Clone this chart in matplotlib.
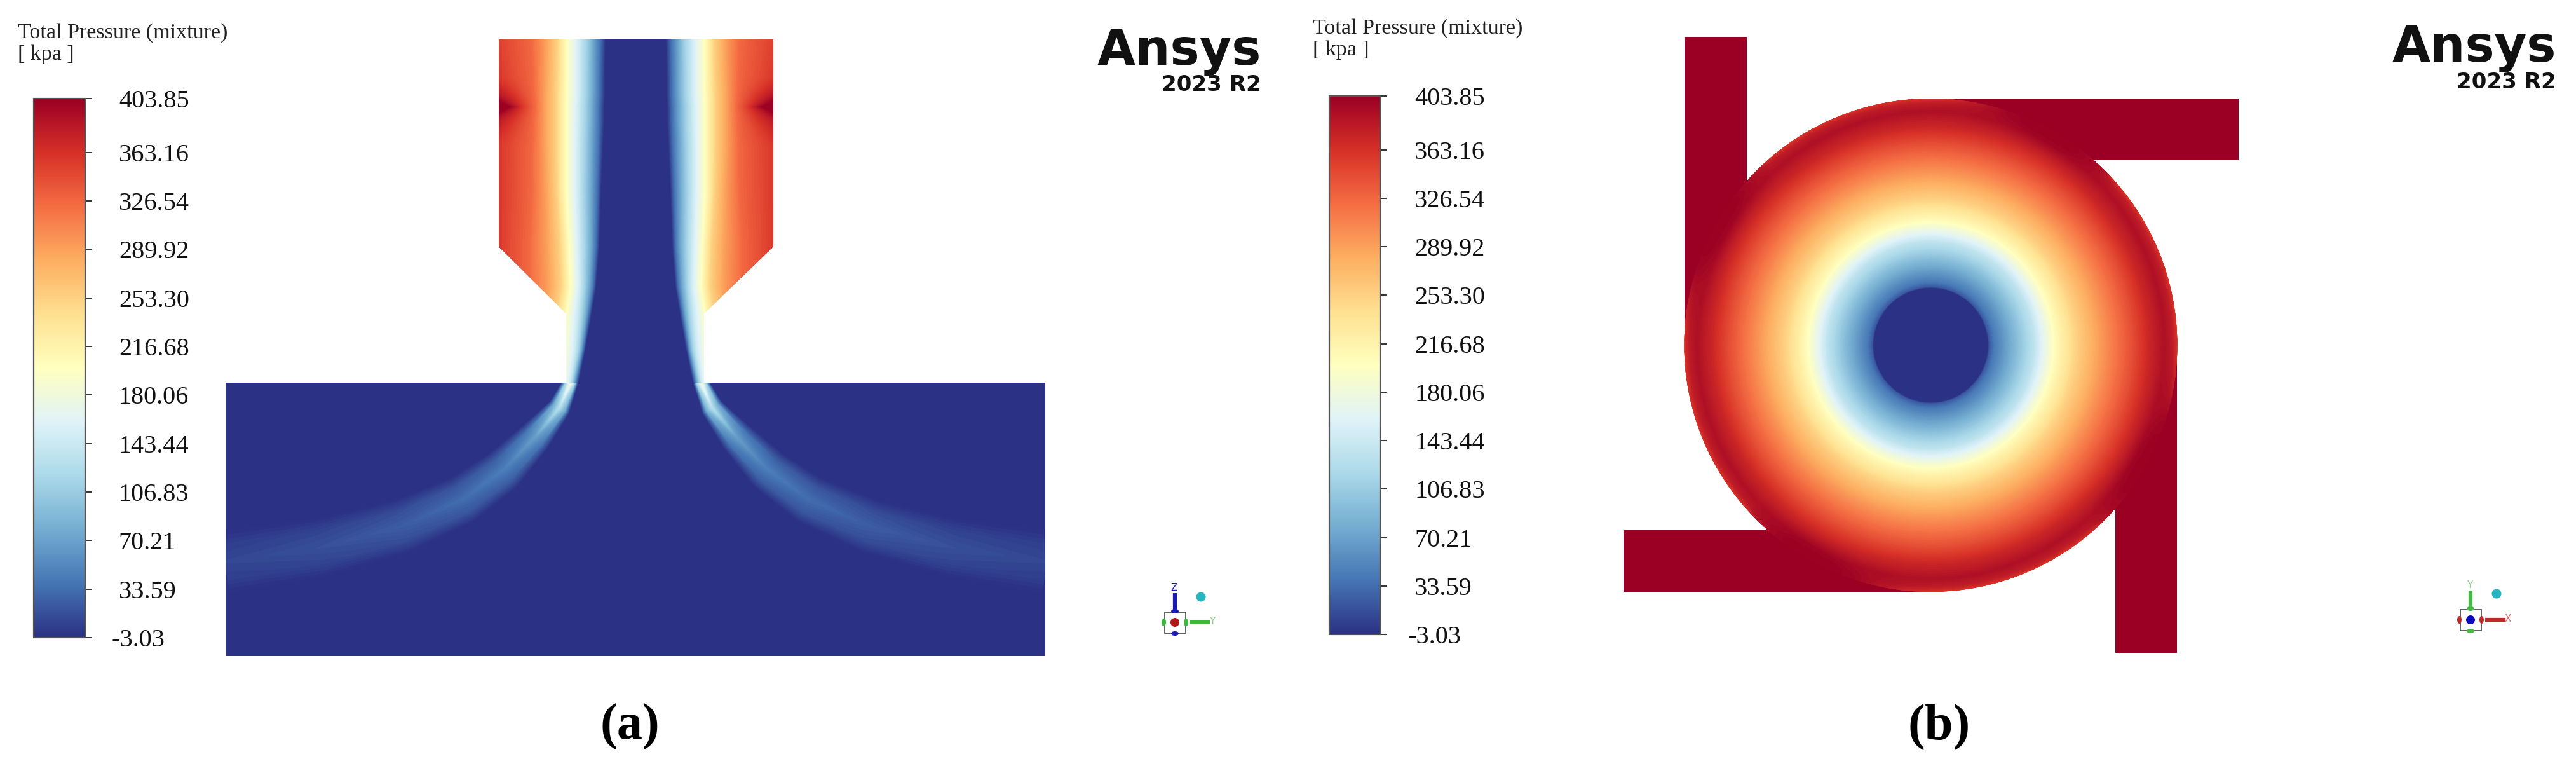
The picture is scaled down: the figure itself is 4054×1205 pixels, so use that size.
import numpy as np
import matplotlib
matplotlib.use("Agg")
import matplotlib.pyplot as plt
from matplotlib.cm import ScalarMappable
from matplotlib.colors import LinearSegmentedColormap, Normalize
from matplotlib.patches import Polygon, Rectangle, Circle, Ellipse

W, H = 4054, 1205

# ---------------- colour scale ----------------
tick_values = [-3.03, 33.59, 70.21, 106.83, 143.44, 180.06, 216.68, 253.30, 289.92, 326.54, 363.16, 403.85]
tick_labels = ["-3.03", "33.59", "70.21", "106.83", "143.44", "180.06", "216.68", "253.30", "289.92", "326.54", "363.16", "403.85"]
scale_colors = ["#2b3184", "#4575b4", "#74add1", "#abd9e9", "#e0f3f8", "#ffffbf",
                "#fee090", "#fdae61", "#f46d43", "#d73027", "#9b0024"]
title_lines = ["Total Pressure (mixture)", "[ kpa ]"]

# ---------------- panel (a): nozzle section ----------------
axis_a = 1000.5
nozzle_outline_x = [785, 1217, 1217, 1108, 1108, 891, 891, 785]
nozzle_outline_y = [62, 62, 388, 493, 602, 602, 493, 388]
plate_x = [355, 1645]
plate_y = [602, 1032]
# distance from the axis at which each pressure of tick_values is reached, per height
nozzle_heights = [62, 120, 148, 168, 188, 230, 300, 388, 450, 493, 550, 602]
nozzle_iso = [
    [48, 56, 67, 76, 89, 102, 114, 124, 142, 165, 240, 290],
    [49, 57, 67, 77, 89, 102, 114, 125, 143, 163, 225, 290],
    [49, 57, 67, 77, 89, 102, 115, 126, 144, 162, 195, 240],
    [50, 58, 68, 78, 90, 103, 115, 126, 144, 160, 180, 200],
    [50, 58, 68, 78, 90, 103, 115, 126, 144, 162, 195, 240],
    [52, 59, 69, 79, 91, 103, 115, 126, 144, 164, 225, 300],
    [55, 61, 70, 80, 91, 103, 115, 125, 142, 165, 225, 300],
    [58, 63, 70, 79, 89, 100, 110, 120, 140, 170, 225, 300],
    [63, 67, 73, 80, 88, 98, 108, 118, 138, 170, 225, 300],
    [70, 74, 78, 84, 92, 104, 114, 125, 145, 170, 225, 300],
    [80, 83, 86, 90, 96, 108, 125, 140, 160, 180, 200, 300],
    [91, 94, 97, 100, 104, 112, 125, 140, 160, 180, 200, 300],
]
nozzle_outer = 330
# jet fanning out in the plate: offset from axis, height, half-width, peak pressure
jet_offset = [102, 120, 158, 209, 273, 369, 496, 646]
jet_height = [600, 641, 687, 740, 786, 828, 861, 884]
jet_halfwidth = [11, 17, 26, 34, 38, 42, 45, 48]
jet_peak = [190, 130, 70, 46, 36, 26, 18, 13]
jet_cross_pos = [-1.0, -0.55, 0.0, 0.55, 1.0]
jet_cross_rel = [0.0, 0.62, 1.0, 0.62, 0.0]

# ---------------- panel (b): swirl chamber ----------------
swirl_center = (3038.5, 543)
swirl_radius = 388
hole_radius = 90
arm_left = [2651, 58, 98, 485]     # x, y, w, h
arm_top = [3038, 155, 485, 97]
arm_right = [3329, 543, 97, 484]
arm_bottom = [2555, 834, 483, 97]
ring_radii = [88, 90, 93, 100, 131, 164, 180, 197, 230, 265, 310, 345]
ring_pressure = [-3.03, -3.03, 22, 40, 85, 135, 170, 205, 253, 290, 335, 372]
# sector angle (deg) and the rim pressure per sector angle, repeated for each of the four arms
sector_angle = [0, 6, 12, 18, 24, 30, 36, 42, 48, 54, 60, 66, 72, 78, 84]
rim_radii = [368, 380, 392]
rim_pressure = [
    [390, 390, 390, 390, 390, 390, 390, 390, 394, 398, 400, 398, 394, 392, 390],
    [380, 380, 380, 380, 380, 380, 380, 384, 396, 403, 403, 403, 398, 390, 384],
    [350, 350, 350, 350, 350, 350, 350, 355, 392, 403, 403, 403, 400, 380, 360],
]

# ---------------- annotations ----------------
legend_a = dict(bar=(53, 134, 155, 1003), title_x=28, title_y=(60, 94), pad=30, minus_pad=22)
legend_b = dict(bar=(2092, 2172, 151, 998), title_x=2066, title_y=(53, 87), pad=31, minus_pad=23)
logo_a = dict(right=1985, y1=102, y2=143)
logo_b = dict(right=4023, y1=97, y2=139)
triad_a = dict(c=(1849, 979), ball=(1890, 939), up="#1a1ab4", side="#3cb83c", mid="#b01818",
               up_label="Z", side_label="Y", side_text="#8fd08f", up_text="#1a1ab4")
triad_b = dict(c=(3888, 975), ball=(3929, 934), up="#46b846", side="#c02a2a", mid="#0a0ac0",
               up_label="Y", side_label="X", side_text="#d86a6a", up_text="#8fd08f")
captions = [("(a)", 991, 1163), ("(b)", 3052, 1163)]

# ---------------------------------------------------------------------------
cmap = LinearSegmentedColormap.from_list("pressure", scale_colors, N=512)
norm = Normalize(tick_values[0], tick_values[-1])
levels = np.linspace(tick_values[0], tick_values[-1], 161)
bg = cmap(0.0)
top = cmap(1.0)
SERIF = "Liberation Serif"

fig = plt.figure(figsize=(W / 100, H / 100), dpi=100, facecolor="white")
ax = fig.add_axes([0, 0, 1, 1])
ax.set_xlim(0, W)
ax.set_ylim(H, 0)
ax.axis("off")


def fill(X, Y, Z, clip, zorder):
    cs = ax.contourf(X, Y, Z, levels=levels, cmap=cmap, norm=norm, extend="both", zorder=zorder)
    cs.set_edgecolor("face")
    cs.set_linewidth(0.4)
    cs.set_clip_path(clip)
    return cs


# panel (a)
plate = Rectangle((plate_x[0], plate_y[0]), plate_x[1] - plate_x[0], plate_y[1] - plate_y[0],
                  facecolor=bg, edgecolor="none", zorder=1)
ax.add_patch(plate)
nozzle = Polygon(np.column_stack([nozzle_outline_x, nozzle_outline_y]), closed=True,
                 facecolor=bg, edgecolor="none", zorder=3)
ax.add_patch(nozzle)

iso = np.array(nozzle_iso, float)
iso = np.hstack([iso, np.full((iso.shape[0], 1), nozzle_outer)])
P = np.array(tick_values + [tick_values[-1]])
X_n = axis_a + np.hstack([-iso[:, ::-1], iso])
Y_n = np.repeat(np.array(nozzle_heights, float)[:, None], X_n.shape[1], axis=1)
Z_n = np.tile(np.hstack([P[::-1], P]), (len(nozzle_heights), 1))
fill(X_n, Y_n, Z_n, nozzle, 4)

off = np.array(jet_offset, float)
yc = np.array(jet_height, float)
tx, ty = np.gradient(off), np.gradient(yc)
ln = np.hypot(tx, ty)
nx, ny = -ty / ln, tx / ln
cross = np.array(jet_cross_pos)
rel = np.array(jet_cross_rel)
hw = np.array(jet_halfwidth, float)
D = off[:, None] + nx[:, None] * hw[:, None] * cross
Yj = yc[:, None] + ny[:, None] * hw[:, None] * cross
Zj = tick_values[0] + np.array(jet_peak, float)[:, None] * rel
for sign in (1, -1):
    fill(axis_a + sign * D, Yj, Zj, plate, 2)

# panel (b)
for arm in (arm_left, arm_top, arm_right, arm_bottom):
    ax.add_patch(Rectangle(arm[:2], arm[2], arm[3], facecolor=top, edgecolor="none", zorder=1))
cx, cy = swirl_center
disc = Circle(swirl_center, swirl_radius, facecolor="none", edgecolor="none", zorder=2)
ax.add_patch(disc)
theta = np.deg2rad(np.concatenate([np.array(sector_angle) + k * 90 for k in range(4)] + [[360]]))
radii = np.array(ring_radii + rim_radii, float)
ring_rows = np.repeat(np.array(ring_pressure, float)[:, None], theta.size, axis=1)
rim = np.array(rim_pressure, float)
rim_rows = np.hstack([rim, rim, rim, rim, rim[:, :1]])
Z_b = np.vstack([ring_rows, rim_rows])
R, T = np.meshgrid(radii, theta, indexing="ij")
X_b = cx + R * np.cos(T)
Y_b = cy - R * np.sin(T)
fill(X_b, Y_b, Z_b, disc, 3)
ax.add_patch(Circle(swirl_center, hole_radius, facecolor=bg, edgecolor="none", zorder=4))


# legends
def legend(spec):
    x0, x1, y0, y1 = spec["bar"]
    cax = fig.add_axes([x0 / W, 1 - y1 / H, (x1 - x0) / W, (y1 - y0) / H])
    cb = fig.colorbar(ScalarMappable(norm=norm, cmap=cmap), cax=cax)
    cb.set_ticks(tick_values, labels=tick_labels)
    cb.ax.minorticks_off()
    cb.ax.tick_params(length=8, width=1.3, color="#222222", pad=spec["pad"], labelsize=29, labelcolor="#111111")
    for lab in cb.ax.get_yticklabels():
        lab.set_fontfamily(SERIF)
    cb.ax.yaxis.get_major_ticks()[0].set_pad(spec["minus_pad"])
    cb.outline.set_edgecolor("#555555")
    cb.outline.set_linewidth(1.6)
    for line, y in zip(title_lines, spec["title_y"]):
        ax.text(spec["title_x"], y, line, family=SERIF, fontsize=24.5, color="#222222", va="baseline", ha="left")


legend(legend_a)
legend(legend_b)

# logos
for logo in (logo_a, logo_b):
    ax.text(logo["right"], logo["y1"], "Ansys", family="DejaVu Sans", weight="bold", fontsize=56,
            ha="right", va="baseline", color="#111111")
    ax.text(logo["right"], logo["y2"], "2023 R2", family="DejaVu Sans", weight="bold", fontsize=24.5,
            ha="right", va="baseline", color="#111111")


# orientation triads
def triad(t):
    x, y = t["c"]
    s = 16.5
    ax.add_patch(Rectangle((x - s, y - s), 2 * s, 2 * s, facecolor="white", edgecolor="#444444", lw=1.2, zorder=6))
    ax.plot([x, x], [y - s - 3, y - s - 30], color=t["up"], lw=4.5, zorder=5, solid_capstyle="butt")
    ax.plot([x + s + 6, x + s + 38], [y, y], color=t["side"], lw=4.5, zorder=5, solid_capstyle="butt")
    for dx, dy, col, w, h in [(0, -s - 1, t["up"], 12, 7), (0, s + 1, t["up"], 12, 7),
                              (-s - 1, 0, t["side"], 7, 12), (s + 1, 0, t["side"], 7, 12)]:
        ax.add_patch(Ellipse((x + dx, y + dy), w, h, facecolor=col, edgecolor="none", zorder=7))
    ax.add_patch(Circle((x, y), 7, facecolor=t["mid"], edgecolor="none", zorder=7))
    ax.add_patch(Circle(t["ball"], 7.5, facecolor="#25b5c0", edgecolor="none", zorder=6))
    ax.text(x - 1, y - s - 38, t["up_label"], fontsize=11, color=t["up_text"], ha="center", va="center", zorder=7)
    ax.text(x + s + 42, y - 2, t["side_label"], fontsize=11, color=t["side_text"], ha="center", va="center", zorder=7)


triad(triad_a)
triad(triad_b)

for text, x, y in captions:
    ax.text(x, y, text, family=SERIF, weight="bold", fontsize=58, ha="center", va="baseline", color="black")

fig.savefig("out.png", dpi=100, facecolor="white")
